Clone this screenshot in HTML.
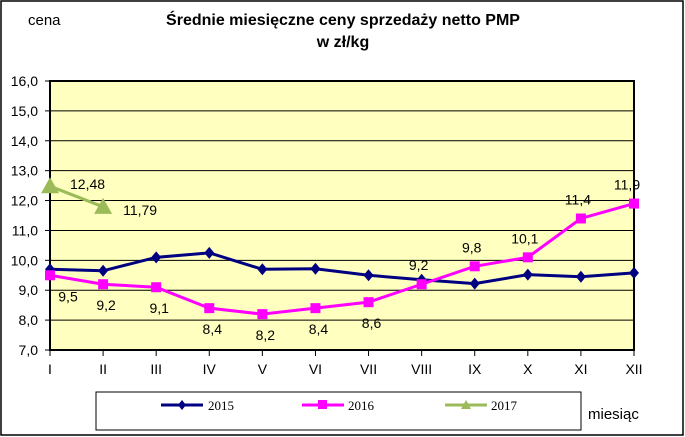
<!DOCTYPE html>
<html><head><meta charset="utf-8"><style>
body{margin:0;background:#fff;}
svg{display:block;font-family:"Liberation Sans",sans-serif;}
</style></head><body>
<svg id="c" width="685" height="437" viewBox="0 0 685 437" xmlns="http://www.w3.org/2000/svg">
<rect x="1" y="1" width="682" height="434" fill="#fff" stroke="#000" stroke-width="1.5"/>
<text x="28" y="25" font-size="15">cena</text>
<text x="343" y="25" font-size="16" font-weight="bold" text-anchor="middle">Średnie miesięczne ceny sprzedaży netto PMP</text>
<text x="343" y="47" font-size="16" font-weight="bold" text-anchor="middle">w zł/kg</text>
<rect x="50" y="81" width="584" height="269" fill="#ffffc0" stroke="#000" stroke-width="2"/>
<g id="grid"></g><g id="axes"></g><g id="series"></g>
<rect x="96" y="392" width="485" height="38" fill="#fff" stroke="#000"/>
<g><line x1="161" y1="405" x2="203" y2="405" stroke="#000080" stroke-width="3"/><path d="M182 400L186 405L182 410L178 405Z" fill="#000080"/><text x="208" y="410" font-size="13" font-family="Liberation Serif">2015</text></g>
<g><line x1="302" y1="405" x2="344" y2="405" stroke="#ff00ff" stroke-width="3"/><rect x="318" y="400" width="9" height="9" fill="#ff00ff"/><text x="348" y="410" font-size="13" font-family="Liberation Serif">2016</text></g>
<g><line x1="445" y1="405" x2="487" y2="405" stroke="#9bbb59" stroke-width="3"/><path d="M466 400L471 409L461 409Z" fill="#9bbb59"/><text x="491" y="410" font-size="13" font-family="Liberation Serif">2017</text></g>
<text x="588" y="419" font-size="15">miesiąc</text>
</svg>
<script>
const months=["I","II","III","IV","V","VI","VII","VIII","IX","X","XI","XII"];
const yTicks=[7,8,9,10,11,12,13,14,15,16];
const s2015=[9.7,9.65,10.1,10.25,9.7,9.72,9.5,9.35,9.22,9.52,9.45,9.58];
const s2016=[9.5,9.2,9.1,8.4,8.2,8.4,8.6,9.2,9.8,10.1,11.4,11.9];
const l2016=["9,5","9,2","9,1","8,4","8,2","8,4","8,6","9,2","9,8","10,1","11,4","11,9"];
const s2017=[12.48,11.79];
const l2017=["12,48","11,79"];
const NS="http://www.w3.org/2000/svg";
const X0=50,X1=634,Y0=350,Y1=81;
const xs=i=>X0+i*(X1-X0)/(months.length-1);
const ys=v=>Y0-(v-7)*(Y0-Y1)/9;
function mk(t,a,p){const e=document.createElementNS(NS,t);for(const k in a)e.setAttribute(k,a[k]);p.appendChild(e);return e;}
const grid=document.getElementById('grid'),axes=document.getElementById('axes'),ser=document.getElementById('series');
yTicks.forEach(v=>{
 if(v>7&&v<16){const g=mk('line',{x1:X0,x2:X1,y1:ys(v),y2:ys(v),stroke:'#000','stroke-width':1},grid);
 
 }
 const t=mk('text',{x:X0-12,y:ys(v)+5,'font-size':14,'text-anchor':'end'},axes);t.textContent=v.toFixed(1).replace('.',',');
 
 
 mk('line',{x1:X0-5,x2:X0,y1:ys(v),y2:ys(v),stroke:'#000'},axes);
});
months.forEach((m,i)=>{
 mk('line',{x1:xs(i),x2:xs(i),y1:Y0,y2:Y0+6,stroke:'#000'},axes);
 const t=mk('text',{x:xs(i),y:Y0+24,'font-size':14,'text-anchor':'middle'},axes);t.textContent=m;
 
 
});
function line(data,color,name){const p=mk('polyline',{points:data.map((v,i)=>xs(i)+','+ys(v)).join(' '),fill:'none',stroke:color,'stroke-width':3},ser);
 
 }
line(s2015,'#000080','line-2015');line(s2016,'#ff00ff','line-2016');line(s2017,'#9bbb59','line-2017');
s2015.forEach((v,i)=>{const x=xs(i),y=ys(v);const m=mk('path',{d:`M${x} ${y-6}L${x+5} ${y}L${x} ${y+6}L${x-5} ${y}Z`,fill:'#000080'},ser);
 
 });
s2016.forEach((v,i)=>{const x=xs(i),y=ys(v);const m=mk('rect',{x:x-5,y:y-5,width:10,height:10,fill:'#ff00ff'},ser);
 
 
 const below=i<7;const t=mk('text',{x:x+(i==11?-4:0)+(i==0?15:0)+(below?3:-3),y:below?y+26:y-14,'font-size':14,'text-anchor':'middle'},ser);t.textContent=l2016[i];
 
 });
s2017.forEach((v,i)=>{const x=xs(i),y=ys(v);const m=mk('path',{d:`M${x} ${y-9}L${x+9} ${y+7}L${x-9} ${y+7}Z`,fill:'#9bbb59'},ser);
 
 
 const t=mk('text',{x:x+20,y:y+i*5+3,'font-size':14},ser);t.textContent=l2017[i];
 
 });
</script>
</body></html>
